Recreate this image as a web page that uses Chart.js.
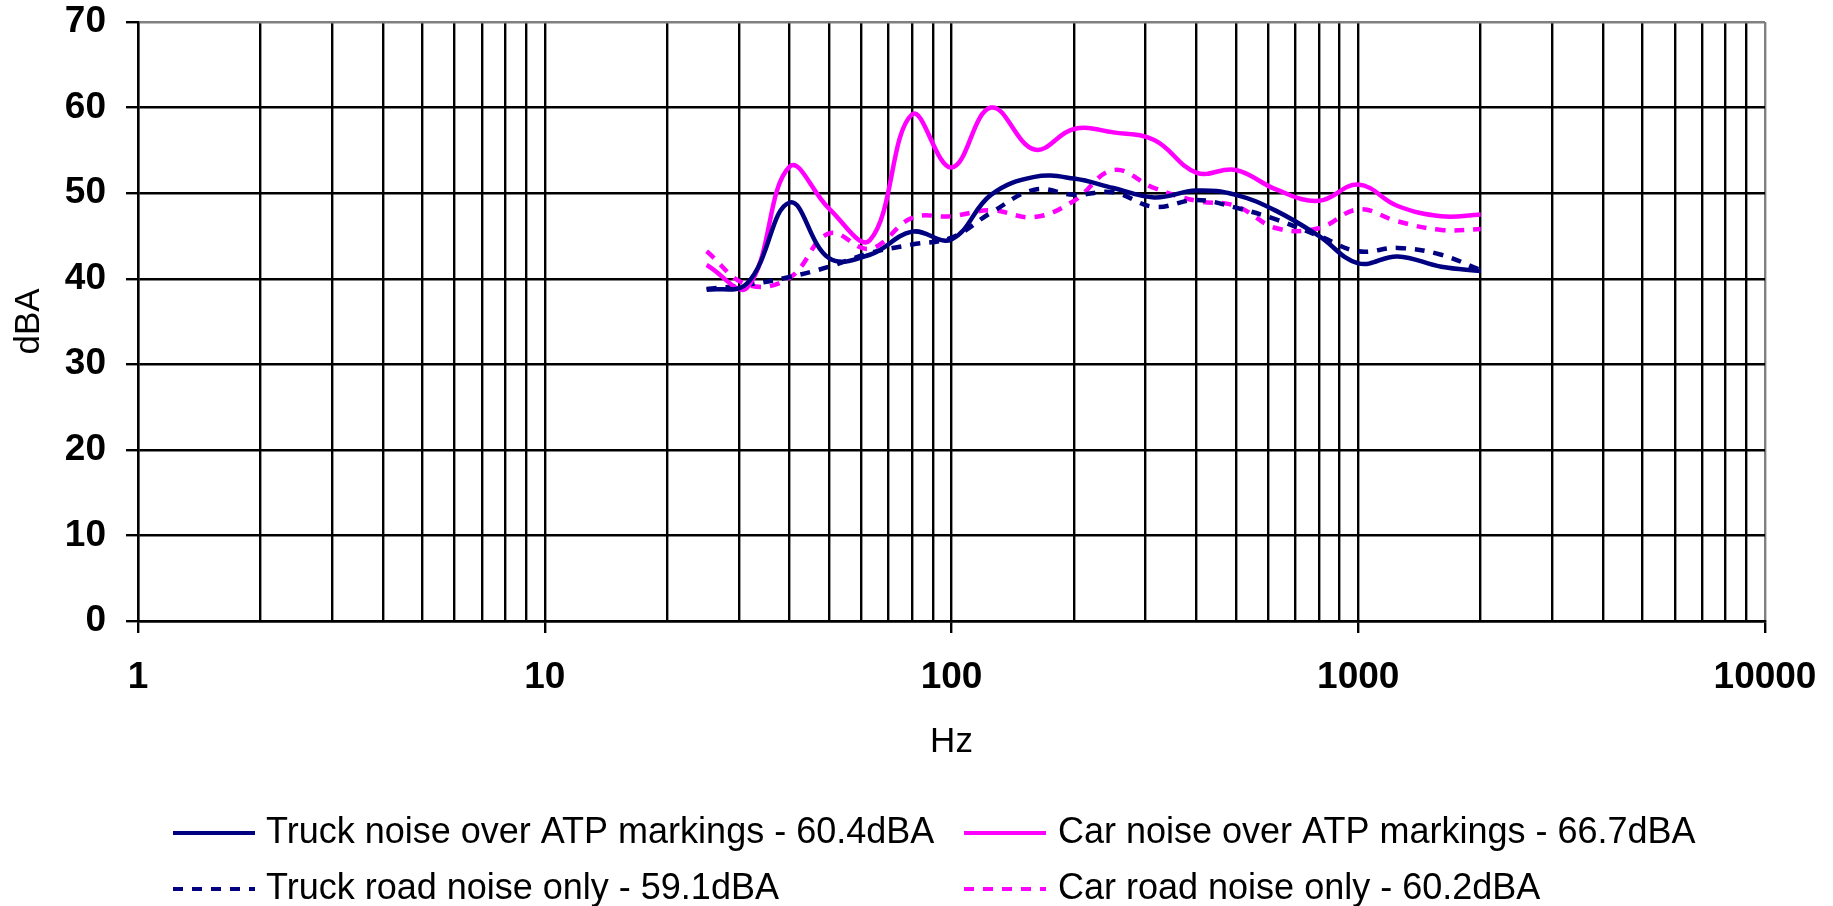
<!DOCTYPE html>
<html>
<head>
<meta charset="utf-8">
<title>Noise spectrum</title>
<script src="https://cdn.jsdelivr.net/npm/chart.js@4/dist/chart.umd.min.js"></script>
<style>
  html, body { margin: 0; padding: 0; background: #fff; }
  canvas { display: block; }
</style>
</head>
<body>
<canvas id="chartNoise" width="1833" height="906"></canvas>
<script>
// Bandes de tiers d'octave (Hz)
const frequencies = [25, 31.5, 40, 50, 63, 80, 100, 125, 160, 200, 250, 315, 400, 500, 630, 800, 1000, 1250, 1600, 2000];

// Niveaux en dBA
const truckAtp  = [38.7, 39.5, 48.9, 42.4, 42.8, 45.5, 44.6, 49.8, 51.9, 51.7, 50.6, 49.5, 50.3, 49.8, 47.9, 45.0, 41.8, 42.6, 41.4, 40.9];
const carAtp    = [41.6, 39.0, 53.1, 48.2, 44.5, 59.2, 53.0, 60.0, 55.1, 57.5, 57.1, 56.2, 52.4, 52.7, 50.4, 49.1, 51.0, 48.5, 47.3, 47.5];
const truckRoad = [38.8, 39.3, 40.2, 41.4, 43.0, 44.0, 44.8, 47.7, 50.4, 49.8, 50.1, 48.4, 49.2, 48.3, 46.9, 45.0, 43.2, 43.6, 42.8, 41.0];
const carRoad   = [43.2, 39.3, 40.1, 45.3, 43.5, 47.1, 47.3, 48.0, 47.2, 49.1, 52.7, 50.6, 49.1, 48.5, 45.9, 45.9, 48.1, 46.7, 45.7, 45.8];

const seriesLabels = [
    'Truck noise over ATP markings - 60.4dBA',
    'Car noise over ATP markings - 66.7dBA',
    'Truck road noise only - 59.1dBA',
    'Car road noise only - 60.2dBA'
];

// Graduations de l'axe X (décades) et de l'axe Y
const xDecades = [1, 10, 100, 1000, 10000];
const yMin = 0, yMax = 70, yStep = 10;

const NAVY = '#000080';
const MAGENTA = '#FF00FF';
const FONT = "'Liberation Sans', Arial, sans-serif";

function toPoints(values) {
    return frequencies.map((f, i) => ({ x: f, y: values[i] }));
}

// Ticks 1..9 par décade, plus la dernière décade
const xTickValues = [];
xDecades.slice(0, -1).forEach(d => {
    for (let k = 1; k <= 9; k++) xTickValues.push(k * d);
});
xTickValues.push(xDecades[xDecades.length - 1]);

// Légende dessinée à la main (2 x 2)
const legendPlugin = {
    id: 'gridLegend',
    afterDraw(chart) {
        const ctx = chart.ctx;
        const lineX = [173, 964];
        const textX = [266, 1058];
        const rowY = [833, 889];
        chart.data.datasets.forEach((ds, i) => {
            const col = i % 2;
            const row = Math.floor(i / 2);
            const y = rowY[row];
            ctx.save();
            ctx.strokeStyle = ds.borderColor;
            ctx.lineWidth = 4;
            ctx.setLineDash(ds.borderDash || []);
            ctx.beginPath();
            ctx.moveTo(lineX[col], y);
            ctx.lineTo(lineX[col] + 82, y);
            ctx.stroke();
            ctx.setLineDash([]);
            ctx.fillStyle = '#000';
            ctx.font = '36px ' + FONT;
            ctx.textBaseline = 'middle';
            ctx.textAlign = 'left';
            ctx.fillText(ds.label, textX[col], y);
            ctx.restore();
        });
    }
};

const makeDataset = (label, values, color, dashed) => ({
    label: label,
    data: toPoints(values),
    borderColor: color,
    backgroundColor: color,
    borderWidth: 4.5,
    borderDash: dashed ? [10, 9] : [],
    pointRadius: 0,
    tension: 0.4,
    fill: false
});

new Chart(document.getElementById('chartNoise'), {
    type: 'line',
    data: {
        datasets: [
            makeDataset(seriesLabels[0], truckAtp, NAVY, false),
            makeDataset(seriesLabels[1], carAtp, MAGENTA, false),
            makeDataset(seriesLabels[2], truckRoad, NAVY, true),
            makeDataset(seriesLabels[3], carRoad, MAGENTA, true)
        ]
    },
    options: {
        responsive: false,
        devicePixelRatio: 1,
        animation: false,
        layout: {
            padding: 0
        },
        plugins: {
            legend: { display: false },
            tooltip: { enabled: false }
        },
        scales: {
            x: {
                type: 'logarithmic',
                min: xDecades[0],
                max: xDecades[xDecades.length - 1],
                afterBuildTicks: scale => {
                    scale.ticks = xTickValues.map(v => ({ value: v }));
                },
                afterFit: scale => {
                    scale.height = 906 - 621;
                    scale.paddingRight = 68; // bord droit du tracé à x = 1765
                },
                ticks: {
                    autoSkip: false,
                    maxRotation: 0,
                    padding: 23,
                    color: '#000',
                    font: { family: FONT, size: 37, weight: 'bold' },
                    callback: v => (xDecades.includes(v) ? String(v) : '')
                },
                grid: {
                    color: c => (c.tick && c.tick.value === 10000 ? '#808080' : '#000'),
                    lineWidth: 2.4,
                    tickLength: 12,
                    tickWidth: 2.4,
                    tickColor: c => (c.tick && xDecades.includes(c.tick.value) ? '#000' : 'rgba(0,0,0,0)')
                },
                border: { color: '#000', width: 2.4 },
                title: {
                    display: true,
                    text: 'Hz',
                    color: '#000',
                    font: { family: FONT, size: 35 },
                    padding: { top: 0, bottom: 143 }
                }
            },
            y: {
                min: yMin,
                max: yMax,
                afterFit: scale => {
                    scale.width = 138;
                    scale.paddingTop = 22; // haut du tracé à y = 22
                },
                ticks: {
                    stepSize: yStep,
                    padding: 20,
                    color: '#000',
                    font: { family: FONT, size: 37, weight: 'bold' }
                },
                grid: {
                    color: c => (c.tick && c.tick.value === yMax ? '#808080' : '#000'),
                    lineWidth: 2.4,
                    tickLength: 12,
                    tickWidth: 2.4,
                    tickColor: '#000'
                },
                border: { color: '#000', width: 2.4 },
                title: {
                    display: true,
                    text: 'dBA',
                    color: '#000',
                    font: { family: FONT, size: 35 },
                    padding: { top: 8, bottom: 0 }
                }
            }
        }
    },
    plugins: [legendPlugin]
});
</script>
</body>
</html>
